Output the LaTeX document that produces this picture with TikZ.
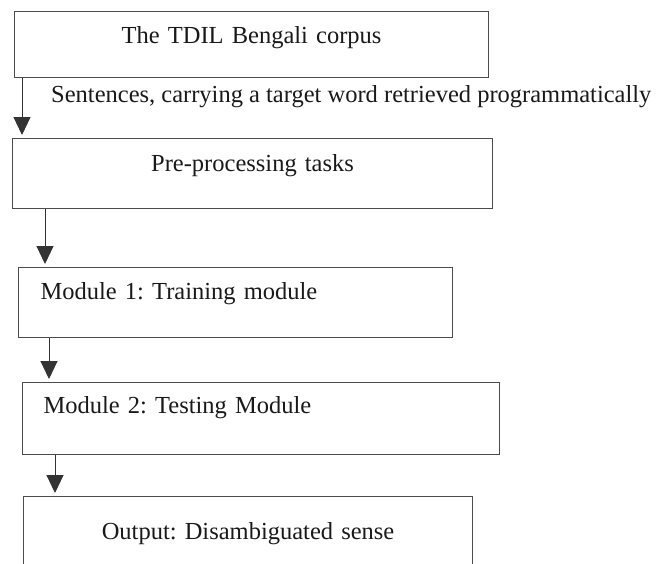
\documentclass[tikz,border=0pt]{standalone}
\usepackage{fontspec}
\setmainfont{Liberation Serif}
\usetikzlibrary{arrows.meta}
\frenchspacing

\begin{document}
\begin{tikzpicture}[
  stage/.style={draw=black!70, line width=1.1pt, inner sep=0pt, font=\fontsize{24.5}{28}\selectfont, text=black!90},
  flow/.style={draw=black!80, line width=1pt, -{Triangle[length=18pt,width=17pt]}, shorten >=3pt},
  note/.style={font=\fontsize{24.5}{28}\selectfont, inner sep=0pt, text=black!90}]
% the page
\useasboundingbox (0,0) rectangle (656pt,-563pt);
\clip (0,0) rectangle (656pt,-563pt);
% the boxes
\node[stage, anchor=north west, text width=474pt, align=center, text height=32pt, text depth=34pt] (corpus) at (14pt,-11pt) {The TDIL Bengali corpus};
\node[stage, anchor=north west, text width=480pt, align=center, text height=33pt, text depth=37pt] (prep) at (12pt,-138pt) {Pre-processing tasks};
\node[stage, anchor=north west, inner xsep=22pt, text width=390pt, align=left, text height=32pt, text depth=38pt] (train) at (18pt,-267pt) {Module 1: Training module};
\node[stage, anchor=north west, inner xsep=21pt, text width=435pt, align=left, text height=31pt, text depth=41pt] (test) at (22pt,-382pt) {Module 2: Testing Module};
\node[stage, anchor=north west, text width=449pt, align=center, text height=43pt, text depth=40pt] (output) at (23pt,-496pt) {Output: Disambiguated sense};
% the label of the first arrow
\node[note, anchor=base west] (sentences) at (51pt,-102pt) {Sentences, carrying a target word retrieved programmatically};
% the arrows
\foreach \from/\to/\dx in {corpus/prep/8, prep/train/33, train/test/31, test/output/33}
  \draw[flow] ([xshift=\dx pt]\from.south west) coordinate (s) -- (s |- \to.north);
\end{tikzpicture}
\end{document}
